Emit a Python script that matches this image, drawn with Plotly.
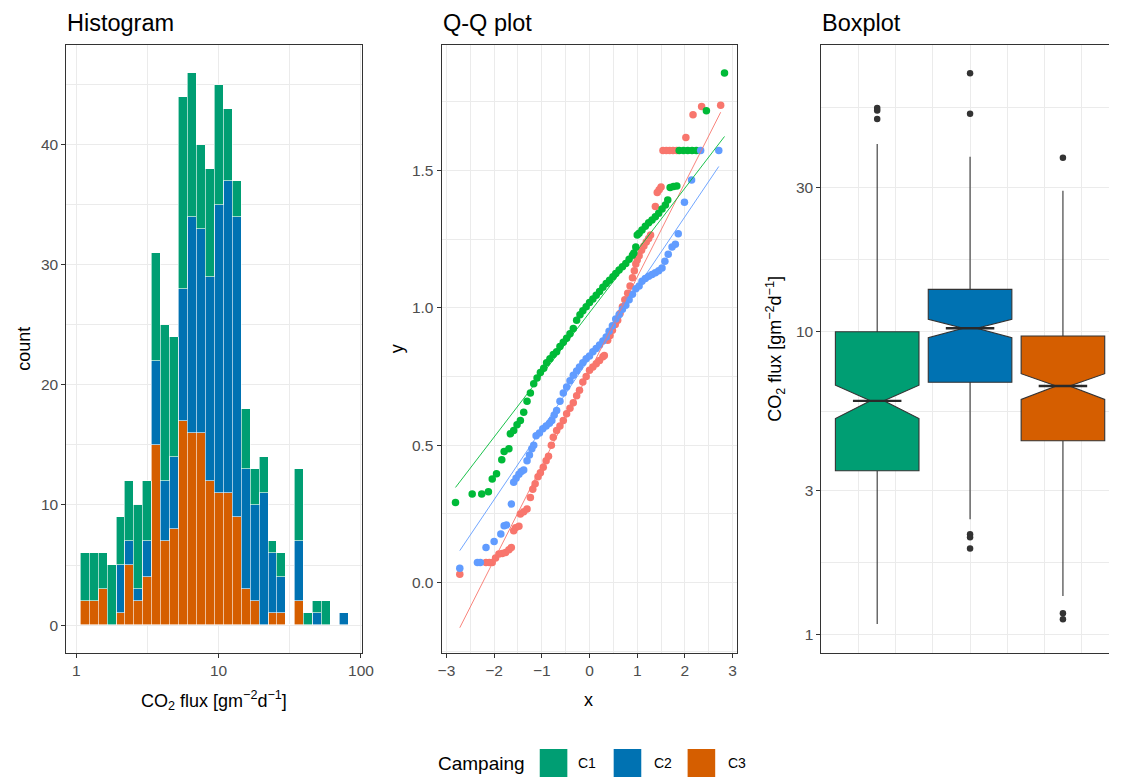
import plotly.graph_objects as go
from math import sqrt

W, H = 1121, 778

# ---------------- data ----------------
campaigns = ["C1", "C2", "C3"]
fill_colors = {"C1": "#009E73", "C2": "#0072B2", "C3": "#D55E00"}
qq_colors = {"C1": "#F8766D", "C2": "#00BA38", "C3": "#619CFF"}

# Histogram: 30 bins on log10(flux)
hist_log_start = 0.0277
hist_bin_width = 0.0628
hist_c1 = [4, 4, 3, 5, 4, 5, 7, 5, 9, 13, 10, 16, 12, 7, 9, 10, 6, 3, 5, 3, 3, 1, 2, 0, 6, 1, 1, 2, 0, 0]
hist_c2 = [0, 0, 0, 0, 4, 2, 1, 3, 7, 5, 6, 11, 18, 17, 17, 24, 26, 25, 10, 8, 11, 5, 3, 0, 5, 0, 1, 0, 0, 1]
hist_c3 = [2, 2, 3, 0, 1, 5, 2, 4, 15, 7, 8, 17, 16, 16, 12, 11, 11, 9, 3, 2, 0, 1, 1, 0, 2, 0, 0, 0, 0, 0]
hist_x_ticks = [0, 1, 2]
hist_x_labels = ["1", "10", "100"]
hist_y_ticks = [0, 10, 20, 30, 40]

# Q-Q plot (theoretical quantile, log10 flux)
qq_c1_x = [-2.72, -2.17, -2.10, -2.04, -1.97, -1.90, -1.83, -1.76, -1.69, -1.64, -1.59, -1.55, -1.48,
           -1.45, -1.38, -1.31, -1.24, -1.19, -1.14, -1.08, -1.03, -0.97, -0.91, -0.86, -0.80, -0.76,
           -0.69, -0.62, -0.55, -0.48, -0.41, -0.34, -0.27, -0.21, -0.14, -0.07, 0.00, 0.07, 0.14,
           0.21, 0.28, 0.31, 0.38, 0.43, 0.48, 0.54, 0.59, 0.64, 0.69, 0.74, 0.80, 0.85, 0.90, 0.94,
           0.97, 1.00, 1.04, 1.09, 1.14, 1.19, 1.24, 1.28, 1.38, 1.42, 1.46, 1.50, 1.54, 1.61, 1.68,
           1.75, 1.83, 2.02, 2.17, 2.35, 2.75]
qq_c1_y = [0.031, 0.073, 0.073, 0.073, 0.090, 0.104, 0.106, 0.110, 0.120, 0.128, 0.189, 0.200, 0.205,
           0.250, 0.258, 0.268, 0.310, 0.340, 0.360, 0.385, 0.400, 0.420, 0.444, 0.460, 0.500, 0.529,
           0.554, 0.570, 0.590, 0.615, 0.635, 0.655, 0.680, 0.700, 0.730, 0.750, 0.773, 0.785, 0.797,
           0.809, 0.822, 0.827, 0.882, 0.900, 0.919, 0.940, 0.955, 0.980, 1.004, 1.030, 1.053, 1.080,
           1.110, 1.135, 1.160, 1.174, 1.190, 1.210, 1.225, 1.240, 1.253, 1.265, 1.369, 1.420, 1.430,
           1.440, 1.573, 1.573, 1.573, 1.573, 1.573, 1.620, 1.703, 1.733, 1.738]

qq_c2_x = [-2.81, -2.46, -2.26, -2.12, -2.04, -1.95, -1.84, -1.79, -1.69, -1.66, -1.59, -1.52, -1.45,
           -1.38, -1.31, -1.24, -1.17, -1.10, -1.03, -0.96, -0.90, -0.83, -0.76, -0.69, -0.62, -0.55,
           -0.48, -0.41, -0.34, -0.27, -0.20, -0.14, -0.07, 0.00, 0.07, 0.14, 0.21, 0.28, 0.35, 0.42,
           0.49, 0.55, 0.62, 0.69, 0.76, 0.83, 0.90, 0.93, 0.97, 1.00, 1.04, 1.10, 1.17, 1.24, 1.31,
           1.38, 1.45, 1.52, 1.59, 1.64, 1.69, 1.76, 1.83, 1.88, 1.97, 2.06, 2.15, 2.24, 2.45, 2.83]
qq_c2_y = [0.292, 0.323, 0.323, 0.331, 0.377, 0.396, 0.447, 0.477, 0.487, 0.542, 0.554, 0.575, 0.590,
           0.620, 0.660, 0.690, 0.724, 0.745, 0.765, 0.780, 0.800, 0.815, 0.830, 0.840, 0.860, 0.875,
           0.890, 0.906, 0.925, 0.955, 0.975, 0.990, 1.004, 1.020, 1.032, 1.046, 1.060, 1.075, 1.089,
           1.101, 1.113, 1.125, 1.138, 1.150, 1.162, 1.177, 1.192, 1.200, 1.222, 1.265, 1.272, 1.284,
           1.297, 1.310, 1.320, 1.332, 1.345, 1.360, 1.375, 1.393, 1.438, 1.442, 1.444, 1.573, 1.573,
           1.573, 1.573, 1.573, 1.718, 1.855]

qq_c3_x = [-2.72, -2.35, -2.29, -2.17, -2.00, -1.86, -1.79, -1.74, -1.64, -1.59, -1.54, -1.48, -1.43,
           -1.38, -1.31, -1.26, -1.21, -1.17, -1.12, -1.05, -0.98, -0.91, -0.84, -0.79, -0.74, -0.69,
           -0.62, -0.55, -0.48, -0.41, -0.34, -0.27, -0.21, -0.14, -0.07, 0.00, 0.07, 0.14, 0.21,
           0.28, 0.35, 0.41, 0.48, 0.55, 0.62, 0.69, 0.76, 0.83, 0.90, 0.97, 1.04, 1.10, 1.17, 1.24,
           1.31, 1.38, 1.45, 1.52, 1.58, 1.65, 1.73, 1.80, 1.86, 1.99, 2.14, 2.33, 2.71]
qq_c3_y = [0.052, 0.073, 0.073, 0.128, 0.150, 0.177, 0.207, 0.210, 0.286, 0.365, 0.380, 0.395, 0.405,
           0.410, 0.444, 0.465, 0.487, 0.500, 0.535, 0.545, 0.560, 0.570, 0.580, 0.590, 0.610, 0.627,
           0.660, 0.690, 0.712, 0.735, 0.755, 0.770, 0.785, 0.800, 0.815, 0.825, 0.840, 0.852, 0.865,
           0.880, 0.894, 0.915, 0.935, 0.960, 0.975, 0.995, 1.010, 1.030, 1.050, 1.070, 1.080, 1.097,
           1.107, 1.115, 1.122, 1.128, 1.135, 1.145, 1.170, 1.195, 1.222, 1.232, 1.270, 1.385, 1.466,
           1.573, 1.573]

qq_line_intercept = {"C1": 0.769, "C2": 0.983, "C3": 0.817}
qq_line_slope = {"C1": 0.343, "C2": 0.2265, "C3": 0.2575}
qq_x_ticks = [-3, -2, -1, 0, 1, 2, 3]
qq_y_ticks = [0.0, 0.5, 1.0, 1.5]
qq_y_labels = ["0.0", "0.5", "1.0", "1.5"]

# Boxplot statistics (CO2 flux, log scale)
box_pos = {"C1": -0.25, "C2": 0.0, "C3": 0.25}
box_q1 = {"C1": 3.48, "C2": 6.82, "C3": 4.37}
box_median = {"C1": 5.92, "C2": 10.28, "C3": 6.63}
box_q3 = {"C1": 10.0, "C2": 13.8, "C3": 9.69}
box_low = {"C1": 1.087, "C2": 2.41, "C3": 1.345}
box_high = {"C1": 41.6, "C2": 37.8, "C3": 29.2}
box_notch = {"C1": 0.745, "C2": 0.72, "C3": 0.645}
box_outliers = {"C1": [54.7, 53.7, 50.3], "C2": [71.3, 52.4, 2.15, 2.10, 1.93], "C3": [37.5, 1.18, 1.127]}
box_y_ticks = [1, 3, 10, 30]

# ---------------- styling helpers ----------------
FONT = "Liberation Sans, Arial, Helvetica, sans-serif"
GRID = "#EBEBEB"
DARK = "#333333"
TICKC = "#4D4D4D"
BOX_W = 0.225
NOTCH_W = 0.42


def fx(p):
    return p / W


def fy(p):
    return 1 - p / H


panel_top, panel_bot = 45, 652.7
ydom = [fy(panel_bot), fy(panel_top)]

fig = go.Figure()

# Histogram (stacked, C3 at bottom)
centers = [hist_log_start + (i + 0.5) * hist_bin_width for i in range(len(hist_c1))]
for name, vals in [("C3", hist_c3), ("C2", hist_c2), ("C1", hist_c1)]:
    fig.add_trace(go.Bar(x=centers, y=vals, width=hist_bin_width, name=name,
                         marker=dict(color=fill_colors[name], line=dict(color="white", width=0.6)),
                         xaxis="x", yaxis="y", showlegend=False))

# Q-Q plot
qq = {"C1": (qq_c1_x, qq_c1_y), "C2": (qq_c2_x, qq_c2_y), "C3": (qq_c3_x, qq_c3_y)}
for name in campaigns:
    xs, ys = qq[name]
    fig.add_trace(go.Scatter(x=xs, y=ys, mode="markers", name=name,
                             marker=dict(color=qq_colors[name], size=7.5, line=dict(width=0)),
                             xaxis="x2", yaxis="y2", showlegend=False))
for name in campaigns:
    xs, _ = qq[name]
    lx = [min(xs), max(xs)]
    ly = [qq_line_intercept[name] + qq_line_slope[name] * v for v in lx]
    fig.add_trace(go.Scatter(x=lx, y=ly, mode="lines", line=dict(color=qq_colors[name], width=0.9),
                             xaxis="x2", yaxis="y2", showlegend=False))

# Boxplot
for name in campaigns:
    fig.add_trace(go.Box(x=[box_pos[name]], q1=[box_q1[name]], median=[box_median[name]],
                         q3=[box_q3[name]], lowerfence=[box_low[name]], upperfence=[box_high[name]],
                         notched=True, notchspan=[box_notch[name]], notchwidth=NOTCH_W,
                         width=BOX_W, whiskerwidth=0, fillcolor=fill_colors[name],
                         line=dict(color=DARK, width=1.1), boxpoints=False,
                         xaxis="x3", yaxis="y3", showlegend=False, name=name))
    # thicker median segment (ggplot draws the median line bolder)
    half = BOX_W / 2 * (1 - NOTCH_W)
    fig.add_trace(go.Scatter(x=[box_pos[name] - half, box_pos[name] + half],
                             y=[box_median[name], box_median[name]], mode="lines",
                             line=dict(color="#2a2a2a", width=2.4), xaxis="x3", yaxis="y3",
                             showlegend=False, hoverinfo="skip"))
    outs = box_outliers[name]
    fig.add_trace(go.Scatter(x=[box_pos[name]] * len(outs), y=outs, mode="markers",
                             marker=dict(color=DARK, size=6.5), xaxis="x3", yaxis="y3",
                             showlegend=False))

tickfont = dict(family=FONT, size=15.5, color=TICKC)
common = dict(showgrid=True, gridcolor=GRID, gridwidth=1.1, zeroline=False, showline=True,
              linecolor=DARK, linewidth=1.2, ticks="outside", ticklen=4, tickcolor=DARK,
              tickwidth=1, tickfont=tickfont)

fig.update_layout(
    width=W, height=H, margin=dict(l=0, r=0, t=0, b=0),
    paper_bgcolor="white", plot_bgcolor="white", barmode="stack", bargap=0,
    boxmode="overlay", showlegend=False,
    xaxis=dict(domain=[fx(63.3), fx(363.3)], range=[-0.069, 2.008], anchor="y",
               tickmode="array", tickvals=hist_x_ticks, ticktext=hist_x_labels, mirror=True,
               minor=dict(tickvals=[0.5, 1.5], showgrid=True, gridcolor=GRID, gridwidth=0.6, ticks=""),
               **common),
    yaxis=dict(domain=ydom, range=[-2.3, 48.3], anchor="x", tickmode="array",
               tickvals=hist_y_ticks, mirror=True,
               minor=dict(tickvals=[5, 15, 25, 35, 45], showgrid=True, gridcolor=GRID, gridwidth=0.6, ticks=""),
               **common),
    xaxis2=dict(domain=[fx(444), fx(744)], range=[-3.1, 3.1], anchor="y2", tickmode="array",
                tickvals=qq_x_ticks, mirror=True,
                minor=dict(tickvals=[-2.5, -1.5, -0.5, 0.5, 1.5, 2.5], showgrid=True, gridcolor=GRID,
                           gridwidth=0.6, ticks=""),
                **common),
    yaxis2=dict(domain=ydom, range=[-0.255, 1.957], anchor="x2", tickmode="array",
                tickvals=qq_y_ticks, ticktext=qq_y_labels, mirror=True,
                minor=dict(tickvals=[-0.25, 0.25, 0.75, 1.25, 1.75], showgrid=True, gridcolor=GRID,
                           gridwidth=0.6, ticks=""),
                **common),
    xaxis3=dict(domain=[fx(829.3), 1.0], range=[-0.4, 0.374], anchor="y3", tickmode="array",
                tickvals=[-0.2, 0.0, 0.2], showticklabels=False, showgrid=True, gridcolor=GRID,
                gridwidth=1.1, zeroline=False, showline=True, linecolor=DARK, linewidth=1.2,
                mirror=True, ticks="",
                minor=dict(tickvals=[-0.3, -0.1, 0.1, 0.3], showgrid=True, gridcolor=GRID,
                           gridwidth=0.6, ticks="")),
    yaxis3=dict(domain=ydom, type="log", range=[-0.0584, 1.946], anchor="x3", tickmode="array",
                tickvals=box_y_ticks, ticktext=[str(v) for v in box_y_ticks], mirror=False,
                minor=dict(tickvals=[sqrt(3), sqrt(30), sqrt(300), sqrt(3000)], showgrid=True,
                           gridcolor=GRID, gridwidth=0.6, ticks=""),
                **common),
)

co2_label = "CO<sub>2</sub> flux [gm<sup>−2</sup>d<sup>−1</sup>]"
ann = []


def text(x, y, s, size, color="black", xanchor="center", yanchor="middle", angle=0):
    ann.append(dict(x=fx(x), y=fy(y), xref="paper", yref="paper", text=s, showarrow=False,
                    xanchor=xanchor, yanchor=yanchor, textangle=angle,
                    font=dict(family=FONT, size=size, color=color)))


# Titles
text(62, 23, "Histogram", 23.5, xanchor="left")
text(443, 23, "Q-Q plot", 23.5, xanchor="left")
text(828, 23, "Boxplot", 23.5, xanchor="left")
# Axis titles
text(20, 349, "count", 18, angle=-90)
text(213, 700, co2_label, 18)
text(399, 349, "y", 18, angle=-90)
text(593, 700, "x", 18)
text(783, 349, co2_label, 18, angle=-90)

# Manual legend
text(438, 763, "Campaing", 19, xanchor="left")
shapes = []
key_x = {"C1": 543.5, "C2": 618.5, "C3": 693.5}
label_x = {"C1": 580, "C2": 657, "C3": 732}
for name in campaigns:
    shapes.append(dict(type="rect", xref="paper", yref="paper", x0=fx(key_x[name]), x1=fx(key_x[name] + 28),
                       y0=fy(777), y1=fy(749), fillcolor=fill_colors[name], line=dict(width=0)))
    text(label_x[name], 763, name, 14, xanchor="left")

fig.update_layout(annotations=ann, shapes=shapes)
fig.write_html(
    "out.html",
    config={"displayModeBar": False, "responsive": False},
    post_script=("document.documentElement.style.margin='0';document.documentElement.style.overflow='hidden';"
                 "document.body.style.margin='0';document.body.style.overflow='hidden';"),
)
